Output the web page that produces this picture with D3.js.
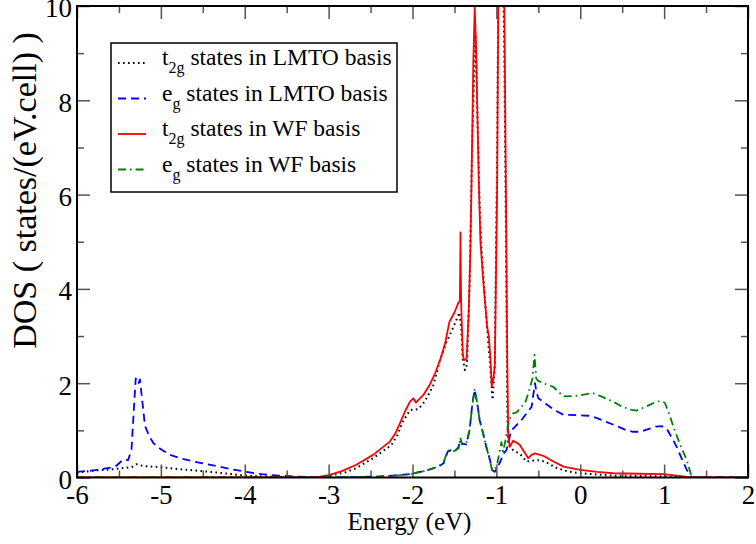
<!DOCTYPE html>
<html>
<head>
<meta charset="utf-8">
<script src="https://cdn.jsdelivr.net/npm/d3@7"></script>
<style>
  body { margin: 0; background: #fff; }
  svg { display: block; }
</style>
</head>
<body>
<div id="chart"></div>
<script>
// DOS curves: [energy (eV), states/(eV.cell)]
const t2gLmto = [
  [-6, 0.1], [-5.8, 0.15], [-5.6, 0.17], [-5.45, 0.2], [-5.35, 0.22], [-5.29, 0.28], [-5.2, 0.24],
  [-5.0, 0.22], [-4.8, 0.18], [-4.53, 0.14], [-4.3, 0.1], [-4.1, 0.06], [-3.9, 0.03], [-3.6, 0.01],
  [-3.3, 0], [-3.1, 0], [-2.98, 0.04], [-2.8, 0.11], [-2.67, 0.2], [-2.47, 0.41], [-2.25, 0.69],
  [-2.18, 0.9], [-2.11, 1.2], [-2.03, 1.43], [-1.93, 1.45], [-1.85, 1.62], [-1.75, 1.96],
  [-1.67, 2.5], [-1.6, 2.85], [-1.51, 3.2], [-1.44, 3.5], [-1.42, 3.2], [-1.4, 2.5], [-1.375, 2.28],
  [-1.35, 2.4], [-1.32, 4.0], [-1.29, 7.0], [-1.25, 9.4], [-1.23, 8.0], [-1.2, 5.8], [-1.18, 4.9],
  [-1.14, 3.9], [-1.1, 2.92], [-1.07, 2.3], [-1.045, 1.65], [-1.02, 2.3], [-0.99, 7], [-0.975, 11],
  [-0.95, 13], [-0.93, 12], [-0.905, 9], [-0.885, 5], [-0.87, 1.5], [-0.86, 0.7], [-0.8, 0.58],
  [-0.72, 0.5], [-0.64, 0.34], [-0.55, 0.36], [-0.48, 0.37], [-0.38, 0.3], [-0.28, 0.2],
  [-0.15, 0.13], [0, 0.09], [0.39, 0.04], [0.8, 0.03], [1.2, 0.02], [1.35, 0], [2, 0]
];

const egLmto = [
  [-6, 0.12], [-5.8, 0.15], [-5.6, 0.21], [-5.53, 0.25], [-5.45, 0.38], [-5.39, 0.37], [-5.35, 0.6],
  [-5.32, 1.5], [-5.3, 2.1], [-5.27, 1.98], [-5.25, 2.08], [-5.22, 1.6], [-5.19, 1.1], [-5.14, 0.88],
  [-5.09, 0.73], [-5.0, 0.6], [-4.89, 0.48], [-4.75, 0.4], [-4.61, 0.34], [-4.45, 0.28], [-4.3, 0.23],
  [-4.15, 0.17], [-3.98, 0.12], [-3.8, 0.07], [-3.6, 0.04], [-3.4, 0.02], [-3.2, 0.01], [-3.0, 0],
  [-2.7, 0.01], [-2.4, 0.02], [-2.15, 0.05], [-2.0, 0.08], [-1.85, 0.14], [-1.7, 0.22], [-1.63, 0.3],
  [-1.58, 0.55], [-1.54, 0.58], [-1.5, 0.55], [-1.45, 0.65], [-1.43, 0.8], [-1.41, 0.72],
  [-1.36, 0.7], [-1.32, 1.0], [-1.29, 1.5], [-1.26, 1.86], [-1.23, 1.6], [-1.2, 1.22], [-1.16, 0.95],
  [-1.12, 0.65], [-1.08, 0.4], [-1.05, 0.16], [-1.02, 0.12], [-0.99, 0.2], [-0.95, 0.35],
  [-0.92, 0.5], [-0.88, 0.58], [-0.85, 0.8], [-0.82, 1.01], [-0.79, 1.05], [-0.76, 1.11],
  [-0.7, 1.22], [-0.64, 1.36], [-0.58, 1.5], [-0.56, 1.75], [-0.54, 2.0], [-0.52, 1.8], [-0.5, 1.68],
  [-0.4, 1.55], [-0.3, 1.42], [-0.2, 1.33], [0, 1.32], [0.1, 1.31], [0.2, 1.26], [0.31, 1.18],
  [0.45, 1.08], [0.55, 1.0], [0.63, 0.97], [0.72, 0.97], [0.8, 1.02], [0.9, 1.08], [0.97, 1.09],
  [1.03, 1.04], [1.09, 0.85], [1.15, 0.65], [1.21, 0.4], [1.27, 0.16], [1.33, 0], [2, 0]
];

const t2gWf = [
  [-6, 0], [-3.3, 0], [-3.2, 0.005], [-3.1, 0.02], [-3.0, 0.05], [-2.85, 0.13], [-2.67, 0.27],
  [-2.47, 0.48], [-2.27, 0.76], [-2.2, 0.95], [-2.15, 1.15], [-2.09, 1.4], [-2.03, 1.61],
  [-1.99, 1.68], [-1.96, 1.59], [-1.87, 1.75], [-1.8, 1.95], [-1.73, 2.21], [-1.66, 2.55],
  [-1.61, 2.85], [-1.56, 3.3], [-1.5, 3.5], [-1.455, 3.7], [-1.435, 3.75], [-1.428, 5.2],
  [-1.42, 3.7], [-1.4, 2.6], [-1.385, 2.49], [-1.355, 2.52], [-1.33, 3.5], [-1.31, 4.8],
  [-1.296, 6.3], [-1.275, 8.8], [-1.258, 9.98], [-1.24, 9.0], [-1.225, 7.6], [-1.21, 6.3],
  [-1.19, 5.0], [-1.158, 4.2], [-1.11, 3.2], [-1.09, 3.0], [-1.07, 2.5], [-1.055, 1.93],
  [-1.035, 2.1], [-1.018, 2.4], [-0.99, 6.3], [-0.978, 10], [-0.965, 13], [-0.94, 14.5],
  [-0.92, 12.5], [-0.905, 10], [-0.887, 6.3], [-0.87, 2.5], [-0.858, 0.87], [-0.84, 0.65],
  [-0.8, 0.78], [-0.76, 0.74], [-0.72, 0.69], [-0.62, 0.41], [-0.58, 0.48], [-0.54, 0.51],
  [-0.44, 0.46], [-0.32, 0.34], [-0.2, 0.23], [0, 0.16], [0.2, 0.12], [0.39, 0.09], [0.7, 0.08],
  [0.99, 0.07], [1.15, 0.04], [1.31, 0], [2, 0]
];

const egWf = [
  [-6, 0], [-3.0, 0], [-2.7, 0.01], [-2.4, 0.02], [-2.15, 0.05], [-2.0, 0.08], [-1.85, 0.14],
  [-1.7, 0.23], [-1.63, 0.32], [-1.58, 0.57], [-1.54, 0.58], [-1.5, 0.56], [-1.45, 0.62],
  [-1.43, 0.85], [-1.41, 0.7], [-1.36, 0.72], [-1.32, 1.0], [-1.29, 1.5], [-1.26, 1.86],
  [-1.23, 1.6], [-1.2, 1.22], [-1.16, 0.95], [-1.12, 0.65], [-1.08, 0.38], [-1.05, 0.15],
  [-1.02, 0.15], [-0.99, 0.3], [-0.96, 0.55], [-0.94, 0.75], [-0.92, 0.55], [-0.89, 0.8],
  [-0.86, 1.1], [-0.83, 1.3], [-0.8, 1.36], [-0.76, 1.38], [-0.7, 1.5], [-0.65, 1.62], [-0.6, 1.9],
  [-0.57, 2.1], [-0.545, 2.6], [-0.525, 2.1], [-0.5, 2.05], [-0.4, 1.97], [-0.32, 1.92],
  [-0.2, 1.72], [-0.05, 1.73], [0.15, 1.79], [0.25, 1.72], [0.39, 1.61], [0.5, 1.5], [0.6, 1.44],
  [0.67, 1.42], [0.78, 1.5], [0.91, 1.61], [0.97, 1.62], [1.01, 1.58], [1.06, 1.35], [1.11, 1.08],
  [1.19, 0.7], [1.27, 0.37], [1.33, 0], [2, 0]
];

const xMajor = [-6, -5, -4, -3, -2, -1, 0, 1, 2];
const xMinor = [-5.5, -4.5, -3.5, -2.5, -1.5, -0.5, 0.5, 1.5];
const yMajor = [0, 2, 4, 6, 8, 10];
const yMinor = [1, 3, 5, 7, 9];

const legendItems = [
  { base: "t", sub: "2g", rest: " states in LMTO basis" },
  { base: "e", sub: "g", rest: " states in LMTO basis" },
  { base: "t", sub: "2g", rest: " states in WF basis" },
  { base: "e", sub: "g", rest: " states in WF basis" }
];

const series = [
  { data: t2gLmto, color: "#000", dash: "1.6,3.4", width: 2 },
  { data: egLmto, color: "#0000ff", dash: "8,5", width: 1.8 },
  { data: t2gWf, color: "#ff0000", dash: null, width: 1.8 },
  { data: egWf, color: "#008000", dash: "8,4,1.6,4", width: 1.8 }
];

const serif = '"Liberation Serif"';
const W = 756, H = 544;
const plotLeft = 77, plotRight = 748, plotTop = 6, plotBottom = 477.5;

const x = d3.scaleLinear().domain([-6, 2]).range([plotLeft, plotRight]);
const y = d3.scaleLinear().domain([0, 10]).range([plotBottom, plotTop]);

const svg = d3.select("#chart").append("svg")
  .attr("width", W)
  .attr("height", H);

svg.append("defs").append("clipPath").attr("id", "plot-clip")
  .append("rect")
  .attr("x", plotLeft).attr("y", plotTop)
  .attr("width", plotRight - plotLeft).attr("height", plotBottom - plotTop);

// curves
const line = d3.line().x(d => x(d[0])).y(d => y(d[1]));
const curves = svg.append("g").attr("clip-path", "url(#plot-clip)");

series.forEach(s => {
  curves.append("path")
    .datum(s.data)
    .attr("fill", "none")
    .attr("stroke", s.color)
    .attr("stroke-width", s.width)
    .attr("stroke-dasharray", s.dash)
    .attr("stroke-linejoin", "round")
    .attr("d", line);
});

// axes with inward ticks
const fmt = d => String(d);
function styleAxis(g) {
  g.select(".domain").remove();
  g.selectAll(".tick line").attr("stroke", "#555").attr("stroke-width", 1.5);
  g.selectAll(".tick text")
    .style("font-family", serif)
    .style("font-size", "27px")
    .style("fill", "#000");
}

svg.append("g").attr("transform", `translate(0,${plotBottom})`)
  .call(d3.axisBottom(x).tickValues(xMajor).tickSize(-13).tickPadding(7).tickFormat(fmt))
  .call(styleAxis);
svg.append("g").attr("transform", `translate(0,${plotBottom})`)
  .call(d3.axisBottom(x).tickValues(xMinor).tickSize(-7).tickFormat(""))
  .call(styleAxis);
svg.append("g").attr("transform", `translate(0,${plotTop})`)
  .call(d3.axisTop(x).tickValues(xMajor).tickSize(-13).tickFormat(""))
  .call(styleAxis);
svg.append("g").attr("transform", `translate(0,${plotTop})`)
  .call(d3.axisTop(x).tickValues(xMinor).tickSize(-7).tickFormat(""))
  .call(styleAxis);

svg.append("g").attr("transform", `translate(${plotLeft},0)`)
  .call(d3.axisLeft(y).tickValues(yMajor).tickSize(-13).tickPadding(5).tickFormat(fmt))
  .call(styleAxis)
  .call(g => g.selectAll(".tick text").attr("dy", "0.4em"));
svg.append("g").attr("transform", `translate(${plotLeft},0)`)
  .call(d3.axisLeft(y).tickValues(yMinor).tickSize(-7).tickFormat(""))
  .call(styleAxis);
svg.append("g").attr("transform", `translate(${plotRight},0)`)
  .call(d3.axisRight(y).tickValues(yMajor).tickSize(-13).tickFormat(""))
  .call(styleAxis);
svg.append("g").attr("transform", `translate(${plotRight},0)`)
  .call(d3.axisRight(y).tickValues(yMinor).tickSize(-7).tickFormat(""))
  .call(styleAxis);

// frame
svg.append("rect")
  .attr("x", plotLeft).attr("y", plotTop)
  .attr("width", plotRight - plotLeft).attr("height", plotBottom - plotTop)
  .attr("fill", "none")
  .attr("stroke", "#000")
  .attr("stroke-width", 2);

// axis titles
svg.append("text")
  .attr("x", (plotLeft + plotRight) / 2 - 3)
  .attr("y", 530)
  .attr("text-anchor", "middle")
  .style("font-family", serif)
  .style("font-size", "25px")
  .text("Energy (eV)");

svg.append("text")
  .attr("transform", "translate(36,190.5) rotate(-90)")
  .attr("text-anchor", "middle")
  .style("font-family", serif)
  .style("font-size", "34px")
  .text("DOS ( states/(eV.cell) )");

// legend
const legend = svg.append("g");
legend.append("rect")
  .attr("x", 111).attr("y", 43)
  .attr("width", 286).attr("height", 149)
  .attr("fill", "#fff")
  .attr("stroke", "#000")
  .attr("stroke-width", 1.5);

legendItems.forEach((item, i) => {
  const by = 65 + i * 35.5;
  const s = series[i];
  legend.append("line")
    .attr("x1", 118).attr("x2", 146)
    .attr("y1", by - 2).attr("y2", by - 2)
    .attr("stroke", s.color)
    .attr("stroke-width", s.width)
    .attr("stroke-dasharray", s.dash);

  const t = legend.append("text")
    .attr("x", 162).attr("y", by)
    .style("font-family", serif)
    .style("font-size", "23.5px");
  t.append("tspan").text(item.base);
  t.append("tspan").attr("dy", 8).style("font-size", "16px").text(item.sub);
  t.append("tspan").attr("dy", -8).text(item.rest);
});
</script>
</body>
</html>
